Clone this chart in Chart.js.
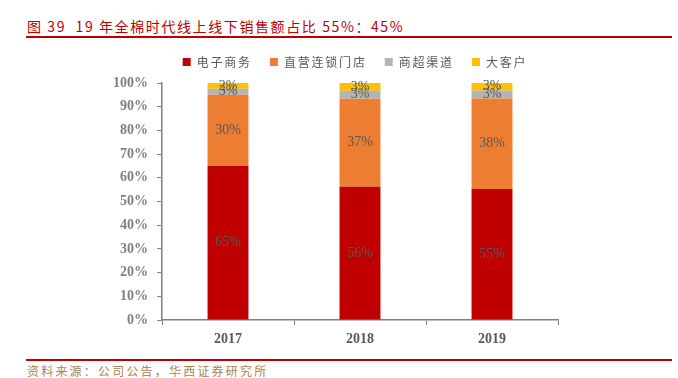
<!DOCTYPE html>
<html>
<head>
<meta charset="utf-8">
<script src="https://cdn.jsdelivr.net/npm/chart.js@4.4.1/dist/chart.umd.min.js"></script>
<style>
  html, body { margin: 0; padding: 0; background: #fff; }
  body { width: 678px; height: 378px; position: relative; overflow: hidden; font-family: "Noto Sans CJK SC", sans-serif; }
  #title { position: absolute; left: 27px; top: 16px; font-size: 14px; letter-spacing: 1.6px; color: #C00000; white-space: nowrap; }
  #topLine { position: absolute; left: 26px; top: 36px; width: 646px; height: 2px; background: #C00000; }
  #bottomLine { position: absolute; left: 26px; top: 359px; width: 646px; height: 2px; background: #C00000; }
  #source { position: absolute; left: 27px; top: 362px; font-size: 12px; letter-spacing: 2.2px; color: #A8834F; white-space: nowrap; }
  #chartBox { position: absolute; left: 32px; top: 38px; width: 646px; height: 312px; }
</style>
</head>
<body>
<div id="title">图 39&nbsp;&nbsp;19 年全棉时代线上线下销售额占比 55%：45%</div>
<div id="topLine"></div>
<div id="chartBox"><canvas id="mainChart"></canvas></div>
<div id="bottomLine"></div>
<div id="source">资料来源：公司公告，华西证券研究所</div>

<script>
// 数据
const years = ['2017', '2018', '2019'];
const seriesNames = ['电子商务', '直营连锁门店', '商超渠道', '大客户'];
const ecommerce = [65, 56.2, 55.3];
const directStores = [30, 37.2, 38.2];
const supermarkets = [2.6, 3.3, 3.3];
const bigClients = [2.4, 3.3, 3.2];
const yTicks = [0, 10, 20, 30, 40, 50, 60, 70, 80, 90, 100];
const seriesColors = ['#C00000', '#ED7D31', '#B4B4B4', '#FFC000'];

const serifFont = '"Liberation Serif", "Times New Roman", serif';

// 柱内数值标签
const barLabels = {
    id: 'barLabels',
    afterDatasetsDraw(chart) {
        const ctx = chart.ctx;
        ctx.save();
        ctx.font = '14px ' + serifFont;
        ctx.fillStyle = '#595959';
        ctx.textAlign = 'center';
        ctx.textBaseline = 'middle';
        chart.data.datasets.forEach((ds, i) => {
            const meta = chart.getDatasetMeta(i);
            meta.data.forEach((bar, j) => {
                const y = (bar.y + bar.base) / 2;
                ctx.fillText(Math.round(ds.data[j]) + '%', bar.x, y);
            });
        });
        ctx.restore();
    }
};

// 图例：字间距 + 与绘图区之间多留一点空
const legendTweak = {
    id: 'legendTweak',
    beforeLayout(chart) {
        const lg = chart.legend;
        if (!lg || lg._patched) return;
        const origFit = lg.fit.bind(lg);
        const origDraw = lg.draw.bind(lg);
        lg.fit = function () {
            const ctx = chart.ctx;
            const old = ctx.letterSpacing;
            ctx.letterSpacing = '1.8px';
            origFit();
            ctx.letterSpacing = old;
            this.height += 5;
        };
        lg.draw = function () {
            const ctx = chart.ctx;
            const old = ctx.letterSpacing;
            ctx.letterSpacing = '1.8px';
            origDraw();
            ctx.letterSpacing = old;
        };
        lg._patched = true;
    }
};

const allSeries = [ecommerce, directStores, supermarkets, bigClients];

new Chart(document.getElementById('mainChart'), {
    type: 'bar',
    data: {
        labels: years,
        datasets: allSeries.map((values, i) => ({
            label: seriesNames[i],
            data: values,
            backgroundColor: seriesColors[i],
            borderWidth: 0,
            categoryPercentage: 1,
            barPercentage: 0.31
        }))
    },
    options: {
        responsive: true,
        maintainAspectRatio: false,
        animation: false,
        layout: { padding: 0 },
        plugins: {
            legend: {
                position: 'top',
                labels: {
                    boxWidth: 8,
                    boxHeight: 8,
                    padding: 18,
                    color: '#595959',
                    font: { size: 12, family: '"Noto Sans CJK SC", sans-serif' }
                }
            },
            tooltip: { enabled: false }
        },
        scales: {
            x: {
                stacked: true,
                afterFit(scale) { scale.height = 30; },
                grid: {
                    display: true,
                    offset: true,
                    drawOnChartArea: false,
                    drawTicks: true,
                    tickLength: 5,
                    color: '#808080',
                    lineWidth: 1
                },
                border: { color: '#808080', width: 1.5 },
                ticks: {
                    color: '#595959',
                    padding: 6,
                    font: { size: 14, weight: 'bold', family: serifFont }
                }
            },
            y: {
                stacked: true,
                min: 0,
                max: 100,
                afterFit(scale) { scale.width = 130; },
                afterBuildTicks(scale) { scale.ticks = yTicks.map(v => ({ value: v })); },
                grid: {
                    display: true,
                    drawOnChartArea: false,
                    drawTicks: true,
                    tickLength: 5,
                    color: '#808080'
                },
                border: { color: '#808080', width: 1.5 },
                ticks: {
                    color: '#7F7F7F',
                    padding: 9,
                    font: { size: 14, weight: 'bold', family: serifFont },
                    callback: v => v + '%'
                }
            },
            // 右侧空白区（不显示）
            yRight: {
                position: 'right',
                afterFit(scale) { scale.width = 120; },
                grid: { display: false },
                border: { display: false },
                ticks: { display: false }
            }
        }
    },
    plugins: [barLabels, legendTweak]
});
</script>
</body>
</html>
